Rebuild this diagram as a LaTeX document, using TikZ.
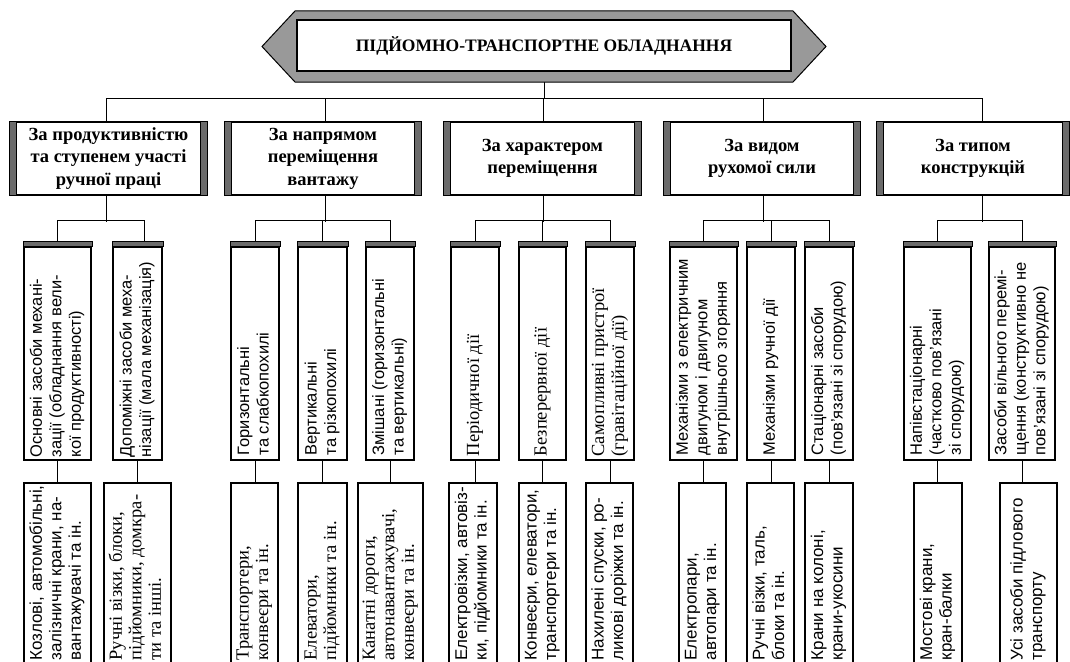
\documentclass[tikz,border=0pt]{standalone}
\usepackage{graphicx}
\usepackage{fontspec}
\setmainfont{Liberation Serif}
\newfontfamily\subsans{Liberation Sans}
\newcommand{\catfont}{\bfseries\fontsize{18.5}{22.5}\selectfont}
% upright label: left-aligned lines turned to read bottom-to-top
\newcommand{\uplabel}[2]{\rotatebox{90}{#1\begin{tabular}{@{}l@{}}#2\end{tabular}}}
\newcommand{\fsA}{\subsans\fontsize{16.5}{19.5}\selectfont}
\newcommand{\fsB}{\fontsize{18.5}{20}\selectfont}
\newcommand{\fsC}{\subsans\fontsize{17}{19.5}\selectfont}
\newcommand{\fsD}{\fontsize{18.5}{19.5}\selectfont}
\newcommand{\upSansMid}[1]{\uplabel{\fsA}{#1}}
\newcommand{\upSerifMid}[1]{\uplabel{\fsB}{#1}}
\newcommand{\upSansLow}[1]{\uplabel{\fsC}{#1}}
\newcommand{\upSerifLow}[1]{\uplabel{\fsD}{#1}}
\definecolor{bargray}{gray}{0.42}
\definecolor{hexgray}{gray}{0.6}
\tikzset{
  conn/.style={line width=0.9pt},
  catbox/.style={draw, line width=1.2pt, fill=white, minimum height=73pt,
    inner sep=1pt, align=center, font=\catfont},
  subbox/.style={draw, line width=1.1pt, fill=white, minimum height=213pt},
  botbox/.style={draw, line width=1.1pt, fill=white, minimum height=217pt},
  lbl/.style={anchor=south, inner sep=0pt},
  topbar/.style={fill=bargray, draw=black, line width=0.5pt},
}
\begin{document}
\renewcommand{\arraystretch}{1}
\setlength{\tabcolsep}{0pt}
\begin{tikzpicture}[x=1pt,y=-1pt]
\useasboundingbox (0,0) rectangle (1070,661);
\clip (0,0) rectangle (1070,661);
\fill[white] (0,0) rectangle (1070,661);

% drop points on the main bus
\coordinate (hexb) at (544,82);
\coordinate (d1) at (106,98);
\coordinate (d2) at (325,98);
\coordinate (d3) at (543,98);
\coordinate (d4) at (763,98);
\coordinate (d5) at (982,98);

% main bus
\draw[conn] (hexb) -- (hexb |- d1);
\draw[conn] (d1) -- (d5);
\foreach \i in {1,...,5} \draw[conn] (d\i) -- ++(0,26);

% title
\filldraw[fill=hexgray, draw=black, line width=1pt]
  (262,46.5) -- (295,11) -- (793,11) -- (826,46.5) -- (793,82) -- (295,82) -- cycle;
\node[draw, fill=white, line width=1.2pt, minimum width=494pt, minimum height=51pt,
  font=\bfseries\fontsize{17.5}{20}\selectfont] (title) at (544,45.5)
  {ПІДЙОМНО-ТРАНСПОРТНЕ ОБЛАДНАННЯ};

% classification boxes
\node[catbox, minimum width=197pt] (c1) at (108.5,158.5) {За продуктивністю\\та ступенем участі\\ручної праці};
\node[catbox, minimum width=196pt] (c2) at (323,158.5) {За напрямом\\переміщення\\вантажу};
\node[catbox, minimum width=197pt] (c3) at (542.5,158.5) {За характером\\переміщення};
\node[catbox, minimum width=196pt] (c4) at (762,158.5) {За видом\\рухомої сили};
\node[catbox, minimum width=192pt] (c5) at (973,158.5) {За типом\\конструкцій};
\foreach \c in {c1,c2,c3,c4,c5}{
  \filldraw[topbar, line width=0.8pt] (\c.north west) rectangle ([xshift=7pt]\c.south west);
  \filldraw[topbar, line width=0.8pt] (\c.north east) rectangle ([xshift=-7pt]\c.south east);
}
\foreach \c/\d in {c1/d1,c2/d2,c3/d3,c4/d4,c5/d5}
  \draw[conn] (\c.south -| \d) -- ++(0,26);

% second level
\node[subbox, minimum width=67pt] (A) at (57.5,353.5) {};
\node[subbox, minimum width=49pt] (B) at (137.5,353.5) {};
\node[subbox, minimum width=48pt] (C) at (255,353.5) {};
\node[subbox, minimum width=49pt] (D) at (322.5,353.5) {};
\node[subbox, minimum width=48pt] (E) at (390,353.5) {};
\node[subbox, minimum width=48pt] (F) at (475,353.5) {};
\node[subbox, minimum width=47pt] (G) at (542.5,353.5) {};
\node[subbox, minimum width=48pt] (H) at (610,353.5) {};
\node[subbox, minimum width=67pt] (I) at (703.5,353.5) {};
\node[subbox, minimum width=48pt] (J) at (771,353.5) {};
\node[subbox, minimum width=48pt] (K) at (829,353.5) {};
\node[subbox, minimum width=67pt] (L) at (937.5,353.5) {};
\node[subbox, minimum width=66pt] (M) at (1022,353.5) {};
\foreach \s in {A,B,C,D,E,F,G,H,I,J,K,L,M}
  \filldraw[topbar] ([xshift=-0.5pt]\s.north west) rectangle ([xshift=0.5pt,yshift=5pt]\s.north east);

% splits from classification boxes to second level
\draw[conn] ([yshift=5pt]A.north) -- ++(0,-21) -| ([xshift=6.5pt,yshift=5pt]B.north);
\draw[conn] ([yshift=5pt]C.north) -- ++(0,-21) -| ([yshift=5pt]E.north);
\draw[conn] ([yshift=5pt]D.north) -- ++(0,-21);
\draw[conn] ([yshift=5pt]F.north) -- ++(0,-21) -| ([yshift=5pt]H.north);
\draw[conn] ([yshift=5pt]G.north) -- ++(0,-21);
\draw[conn] ([yshift=5pt]I.north) -- ++(0,-21) -| ([yshift=5pt]K.north);
\draw[conn] ([yshift=5pt]J.north) -- ++(0,-21);
\draw[conn] ([yshift=5pt]L.north) -- ++(0,-21) -| ([yshift=5pt]M.north);

% second level texts
\node[lbl] at ([yshift=3pt]A.south) {\upSansMid{Основні засоби механі-\\зації (обладнання вели-\\кої продуктивності)}};
\node[lbl] at ([yshift=3pt]B.south) {\upSansMid{Допоміжні засоби меха-\\нізації (мала механізація)}};
\node[lbl] at ([yshift=5pt]C.south) {\upSansMid{Горизонтальні\\та слабкопохилі}};
\node[lbl] at ([yshift=5pt]D.south) {\upSansMid{Вертикальні\\та різкопохилі}};
\node[lbl] at ([yshift=5pt]E.south) {\upSansMid{Змішані (горизонтальні\\та вертикальні)}};
\node[lbl] at ([yshift=4pt]F.south) {\upSerifMid{Періодичної дії}};
\node[lbl] at ([yshift=4pt]G.south) {\upSerifMid{Безперервної дії}};
\node[lbl] at ([yshift=4pt]H.south) {\upSerifMid{Самопливні пристрої\\(гравітаційної дії)}};
\node[lbl] at ([yshift=5pt]I.south) {\upSansMid{Механізми з електричним\\двигуном і двигуном\\внутрішнього згоряння}};
\node[lbl] at ([yshift=5pt]J.south) {\upSansMid{Механізми ручної дії}};
\node[lbl] at ([yshift=5pt]K.south) {\upSansMid{Стаціонарні засоби\\(пов’язані зі спорудою)}};
\node[lbl] at ([yshift=5pt]L.south) {\upSansMid{Напівстаціонарні\\(частково пов’язані\\зі спорудою)}};
\node[lbl] at ([yshift=5pt]M.south) {\upSansMid{Засоби вільного перемі-\\щення (конструктивно не\\пов’язані зі спорудою)}};

% third level
\node[botbox, minimum width=67pt] (b1) at (57.5,591.5) {};
\node[botbox, minimum width=67pt] (b2) at (137.5,591.5) {};
\node[botbox, minimum width=47pt] (b3) at (254.5,591.5) {};
\node[botbox, minimum width=49pt] (b4) at (322.5,591.5) {};
\node[botbox, minimum width=65pt] (b5) at (390.5,591.5) {};
\node[botbox, minimum width=48pt] (b6) at (473,591.5) {};
\node[botbox, minimum width=47pt] (b7) at (542.5,591.5) {};
\node[botbox, minimum width=47pt] (b8) at (609.5,591.5) {};
\node[botbox, minimum width=47pt] (b9) at (702.5,591.5) {};
\node[botbox, minimum width=47pt] (b10) at (770.5,591.5) {};
\node[botbox, minimum width=48pt] (b11) at (829,591.5) {};
\node[botbox, minimum width=48pt] (b12) at (938,591.5) {};
\node[botbox, minimum width=57pt] (b13) at (1028.5,591.5) {};
\foreach \s/\b in {A/b1,B/b2,C/b3,D/b4,E/b5,F/b6,G/b7,H/b8,I/b9,J/b10,K/b11,L/b12,M/b13}
  \draw[conn] (\s.south) -- (\s.south |- \b.north);

% third level texts, running out past the lower edge
\node[lbl] at ([yshift=40pt]b1.south) {\upSansLow{Козлові, автомобільні,\\залізничні крани, на-\\вантажувачі та ін.}};
\node[lbl] at ([yshift=40pt]b2.south) {\upSerifLow{Ручні візки, блоки,\\підйомники, домкра-\\ти та інші.}};
\node[lbl] at ([yshift=40pt]b3.south) {\upSerifLow{Транспортери,\\конвеєри та ін.}};
\node[lbl] at ([yshift=40pt]b4.south) {\upSerifLow{Елеватори,\\підйомники та ін.}};
\node[lbl] at ([yshift=40pt]b5.south) {\upSerifLow{Канатні дороги,\\автонавантажувачі,\\конвеєри та ін.}};
\node[lbl] at ([yshift=40pt]b6.south) {\upSansLow{Електровізки, автовіз-\\ки, підйомники та ін.}};
\node[lbl] at ([yshift=40pt]b7.south) {\upSansLow{Конвеєри, елеватори,\\транспортери та ін.}};
\node[lbl] at ([yshift=40pt]b8.south) {\upSansLow{Нахилені спуски, ро-\\ликові доріжки та ін.}};
\node[lbl] at ([yshift=40pt]b9.south) {\upSansLow{Електропари,\\автопари та ін.}};
\node[lbl] at ([yshift=40pt]b10.south) {\upSansLow{Ручні візки, таль,\\блоки та ін.}};
\node[lbl] at ([yshift=40pt]b11.south) {\upSansLow{Крани на колоні,\\крани-укосини}};
\node[lbl] at ([yshift=40pt]b12.south) {\upSansLow{Мостові крани,\\кран-балки}};
\node[lbl] at ([yshift=40pt]b13.south) {\upSansLow{Усі засоби підлового\\транспорту}};
\end{tikzpicture}
\end{document}
